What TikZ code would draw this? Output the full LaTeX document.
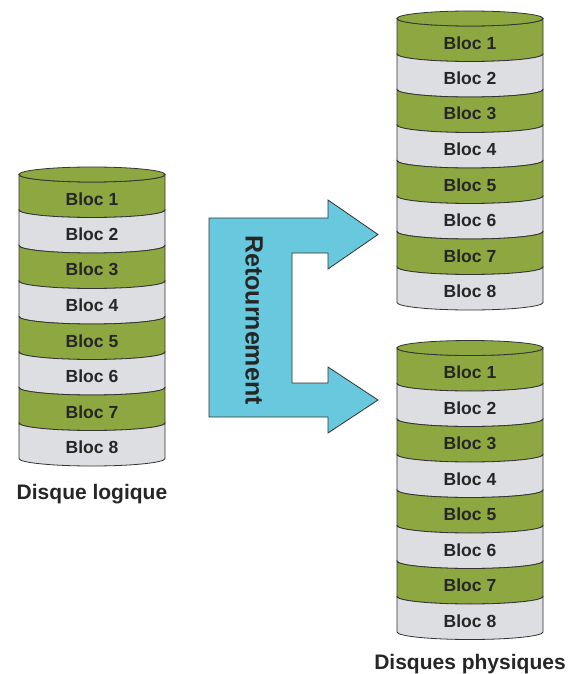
\documentclass[tikz,border=0pt]{standalone}
\usepackage{fontspec}
\setmainfont{Liberation Sans}
\usetikzlibrary{positioning}

\definecolor{vertbloc}{RGB}{141,168,64}
\definecolor{grisbloc}{RGB}{221,222,226}
\definecolor{cyanfleche}{RGB}{104,200,222}
\definecolor{trait}{RGB}{51,51,51}

\begin{document}
\begin{tikzpicture}[
  x=1pt, y=1pt,
  node distance=22pt,
  band/.style={draw=trait, line width=0.8pt},
  bloc/.style={font=\bfseries\fontsize{17.5}{17.5}\selectfont, text=black!85, inner sep=0pt},
  legende/.style={font=\bfseries\fontsize{21}{21}\selectfont, text=black!85, inner sep=0pt},
  fleche/.style={draw=trait, line width=0.8pt, fill=cyanfleche}
]
  \useasboundingbox (0,0) rectangle (569,-674);

  % les trois disques
  \foreach \d/\x/\y in {log/19/174.5, phA/397/18.5, phB/397/348} {
    \foreach \i in {1,...,8} {
      \pgfmathsetmacro{\ya}{-\y-(\i-1)*35.5}
      \pgfmathsetmacro{\yb}{-\y-\i*35.5}
      \pgfmathsetmacro{\yl}{-\y-(\i-0.5)*35.5-6.5}
      \pgfmathsetmacro{\couleur}{ifthenelse(isodd(\i),1,0)}
      \ifnum\couleur=1 \def\fond{vertbloc}\else\def\fond{grisbloc}\fi
      \path[band, fill=\fond] (\x,\ya)
        arc[start angle=180, end angle=360, x radius=73, y radius=7.5]
        -- (\x+146,\yb)
        arc[start angle=0, end angle=-180, x radius=73, y radius=7.5]
        -- cycle;
      \node[bloc] (\d-\i) at (\x+73,\yl) {Bloc \i};
    }
    \path[band, fill=vertbloc] (\x+73,-\y) ellipse[x radius=73, y radius=7.5];
  }

  \node[legende, below=30pt of log-8] (logique) {Disque logique};
  \node[legende, below=27pt of phB-8] (physiques) {Disques physiques};

  % fleche de retournement
  \path[fleche] (209,-218) -- (328,-218) -- (328,-200) -- (378,-234.5)
    -- (328,-269) -- (328,-253) -- (292,-253) -- (292,-383) -- (328,-383)
    -- (328,-367) -- (378,-400) -- (328,-433) -- (328,-417) -- (209,-417) -- cycle;
  \node[legende, font=\bfseries\fontsize{25}{25}\selectfont, rotate=-90] (ret) at (254,-320) {Retournement};
\end{tikzpicture}
\end{document}
